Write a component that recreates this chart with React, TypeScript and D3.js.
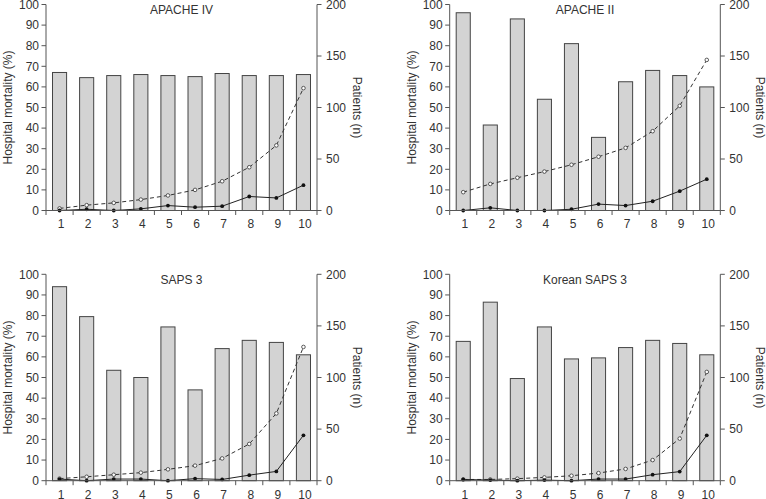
import React from 'react';
import * as d3 from 'd3';

const categories = ['1', '2', '3', '4', '5', '6', '7', '8', '9', '10'];
const mortalityTicks = [0, 10, 20, 30, 40, 50, 60, 70, 80, 90, 100];
const patientTicks = [0, 50, 100, 150, 200];

const apache4Patients = [134, 129, 131, 132, 131, 130, 133, 131, 131, 132];
const apache4Predicted = [1.0, 2.6, 3.7, 5.3, 7.3, 10.0, 14.2, 21.0, 31.6, 59.4];
const apache4Observed = [0, 0.6, 0, 0.8, 2.4, 1.6, 2.1, 6.8, 6.1, 12.3];

const apache2Patients = [192, 83, 186, 108, 162, 71, 125, 136, 131, 120];
const apache2Predicted = [8.9, 12.9, 15.9, 18.9, 22.2, 26.1, 30.4, 38.5, 50.8, 73.1];
const apache2Observed = [0, 1.3, 0, 0, 0.6, 3.1, 2.4, 4.5, 9.4, 15.2];

const saps3Patients = [188, 159, 107, 100, 149, 88, 128, 136, 134, 122];
const saps3Predicted = [1.0, 1.9, 2.9, 3.9, 5.5, 7.3, 10.8, 17.8, 32.6, 64.8];
const saps3Observed = [0.8, 0, 0.8, 0.8, 0, 1.0, 0.6, 2.7, 4.5, 22.0];

const koreanPatients = [135, 173, 99, 149, 118, 119, 129, 136, 133, 122];
const koreanPredicted = [0.6, 0.6, 1.0, 1.6, 2.4, 3.7, 5.7, 10.0, 20.4, 52.7];
const koreanObserved = [0.6, 0.3, 0, 0.3, 0, 0.8, 0.8, 2.9, 4.4, 22.0];

const panels = [
  { title: 'APACHE IV', patients: apache4Patients, predicted: apache4Predicted, observed: apache4Observed, x0: 46, x1: 317, y0: 4.5, y1: 210.5 },
  { title: 'APACHE II', patients: apache2Patients, predicted: apache2Predicted, observed: apache2Observed, x0: 449.7, x1: 720.3, y0: 4.5, y1: 210.5 },
  { title: 'SAPS 3', patients: saps3Patients, predicted: saps3Predicted, observed: saps3Observed, x0: 46, x1: 317, y0: 274.3, y1: 480.7 },
  { title: 'Korean SAPS 3', patients: koreanPatients, predicted: koreanPredicted, observed: koreanObserved, x0: 449.7, x1: 720.3, y0: 274.3, y1: 480.7 },
];

const FONT = '"Liberation Sans", Arial, Helvetica, sans-serif';
const AXIS = '#555';
const TEXT = '#333';

function Panel({ p }: { p: typeof panels[number] }) {
  const x = d3.scaleBand<string>().domain(categories).range([p.x0, p.x1]).paddingInner(0.48).paddingOuter(0.24);
  const xb = d3.scaleBand<string>().domain(categories).range([p.x0, p.x1]);
  const yL = d3.scaleLinear().domain([0, 100]).range([p.y1, p.y0]);
  const yR = d3.scaleLinear().domain([0, 200]).range([p.y1, p.y0]);
  const cx = (c: string) => (xb(c) as number) + xb.bandwidth() / 2;
  const line = d3.line<number>().x((_, i) => cx(categories[i])).y((v) => yL(v));
  const boundaries = categories.map((c) => xb(c) as number).concat([p.x1]);
  const midY = (p.y0 + p.y1) / 2;
  const leftLabelX = p.x0 - 38.5;
  const rightLabelX = p.x1 + 40;
  return (
    <g>
      {p.patients.map((v, i) => (
        <rect key={i} x={x(categories[i])} y={yR(v)} width={x.bandwidth()} height={p.y1 - yR(v)}
          fill="#d3d3d3" stroke="#444" strokeWidth={1} />
      ))}
      <path d={line(p.predicted) || ''} fill="none" stroke="#333" strokeWidth={1} strokeDasharray="4,3" />
      <path d={line(p.observed) || ''} fill="none" stroke="#222" strokeWidth={1} />
      {p.predicted.map((v, i) => (
        <circle key={'p' + i} cx={cx(categories[i])} cy={yL(v)} r={1.8} fill="#fff" stroke="#333" strokeWidth={0.8} />
      ))}
      {p.observed.map((v, i) => (
        <circle key={'o' + i} cx={cx(categories[i])} cy={yL(v)} r={1.9} fill="#111" />
      ))}
      {/* left axis */}
      <line x1={p.x0} x2={p.x0} y1={p.y0} y2={p.y1} stroke={AXIS} strokeWidth={1} />
      {mortalityTicks.map((t) => (
        <g key={'l' + t}>
          <line x1={p.x0 - 4.5} x2={p.x0} y1={yL(t)} y2={yL(t)} stroke={AXIS} strokeWidth={1} />
          <text x={p.x0 - 7} y={yL(t)} dy="0.36em" textAnchor="end" fontSize={12} fill={TEXT} fontFamily={FONT}>{t}</text>
        </g>
      ))}
      {/* right axis */}
      <line x1={p.x1} x2={p.x1} y1={p.y0} y2={p.y1} stroke={AXIS} strokeWidth={1} />
      {patientTicks.map((t) => (
        <g key={'r' + t}>
          <line x1={p.x1} x2={p.x1 + 4.5} y1={yR(t)} y2={yR(t)} stroke={AXIS} strokeWidth={1} />
          <text x={p.x1 + 9} y={yR(t)} dy="0.36em" textAnchor="start" fontSize={12} fill={TEXT} fontFamily={FONT}>{t}</text>
        </g>
      ))}
      {/* bottom axis */}
      <line x1={p.x0} x2={p.x1} y1={p.y1} y2={p.y1} stroke={AXIS} strokeWidth={1} />
      {boundaries.map((b, i) => (
        <line key={'b' + i} x1={b} x2={b} y1={p.y1} y2={p.y1 + 4.5} stroke={AXIS} strokeWidth={1} />
      ))}
      {categories.map((c) => (
        <text key={'c' + c} x={cx(c) + 1.5} y={p.y1 + 13.5} dy="0.36em" textAnchor="middle" fontSize={12} fill={TEXT} fontFamily={FONT}>{c}</text>
      ))}
      <text x={(p.x0 + p.x1) / 2} y={p.y0 + 5.3} dy="0.36em" textAnchor="middle" fontSize={12} fill={TEXT} fontFamily={FONT}>{p.title}</text>
      <text transform={`translate(${leftLabelX},${midY}) rotate(-90)`} dy="0.36em" textAnchor="middle" fontSize={12} fill={TEXT} fontFamily={FONT}>Hospital mortality (%)</text>
      <text transform={`translate(${rightLabelX},${midY}) rotate(90)`} dy="0.36em" textAnchor="middle" fontSize={12} fill={TEXT} fontFamily={FONT}>Patients (n)</text>
    </g>
  );
}

export default function App() {
  return (
    <svg width={766} height={499} style={{ position: 'absolute', left: 0, top: 0, background: '#fff' }}>
      <rect width={766} height={499} fill="#fff" />
      {panels.map((p) => (
        <Panel key={p.title} p={p} />
      ))}
    </svg>
  );
}
